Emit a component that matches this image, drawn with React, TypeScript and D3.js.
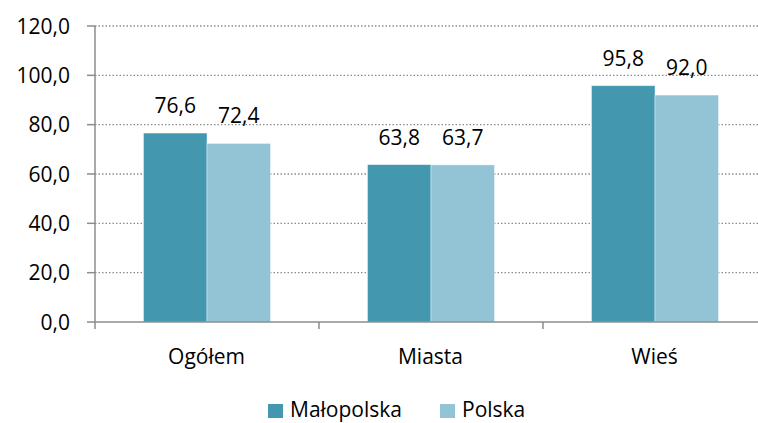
import React from 'react';
import * as d3 from 'd3';

const categories = ['Ogółem', 'Miasta', 'Wieś'];
const seriesNames = ['Małopolska', 'Polska'];
const malopolska = [76.6, 63.8, 95.8];
const polska = [72.4, 63.7, 92.0];
const yTicks = [0, 20, 40, 60, 80, 100, 120];
const colors = ['#4398b0', '#93c4d5'];

const W = 758;
const H = 423;
const font = '"Open Sans", sans-serif';

const fmt = (v: number) => v.toFixed(1).replace('.', ',');

export default function App() {
  const x = d3.scaleBand().domain(categories).range([95, 767]);
  const inner = d3.scaleBand().domain(seriesNames).range([0, 127]);
  const y = d3.scaleLinear().domain([0, 120]).range([322, 26]);
  const series = [malopolska, polska];

  const barX = (ci: number, si: number) =>
    (x(categories[ci]) || 0) + (x.bandwidth() - 127) / 2 + (inner(seriesNames[si]) || 0);

  return (
    <svg width={W} height={H} style={{ position: 'absolute', left: 0, top: 0, background: '#fff' }}>
      {/* gridlines */}
      {yTicks.filter((t) => t > 0).map((t) => (
        <line key={'g' + t} x1={95} x2={767} y1={y(t)} y2={y(t)} stroke="#8c8c8c" strokeWidth={1.3} strokeDasharray="1.5,2" />
      ))}
      {/* bars */}
      {series.map((vals, si) =>
        vals.map((v, ci) => (
          <rect
            key={`b${si}-${ci}`}
            x={barX(ci, si)}
            y={y(v)}
            width={inner.bandwidth()}
            height={y(0) - y(v)}
            fill={colors[si]}
            stroke="#ffffff"
            strokeOpacity={0.5}
            strokeWidth={0.8}
          />
        ))
      )}
      {/* value labels */}
      {series.map((vals, si) =>
        vals.map((v, ci) => (
          <text
            key={`l${si}-${ci}`}
            x={barX(ci, si) + inner.bandwidth() / 2}
            y={y(v) - 20}
            textAnchor="middle"
            fontFamily={font}
            fontSize={21}
            fill="#000"
          >
            {fmt(v)}
          </text>
        ))
      )}
      {/* y axis */}
      <line x1={95} x2={95} y1={26} y2={329} stroke="#8c8c8c" strokeWidth={1.5} />
      {yTicks.map((t) => (
        <g key={'t' + t}>
          <line x1={87} x2={95} y1={y(t)} y2={y(t)} stroke="#8c8c8c" strokeWidth={1.5} />
          <text x={70} y={y(t)} dy="0.36em" textAnchor="end" fontFamily={font} fontSize={21} fill="#000">
            {fmt(t)}
          </text>
        </g>
      ))}
      {/* x axis */}
      <line x1={95} x2={767} y1={y(0)} y2={y(0)} stroke="#8c8c8c" strokeWidth={1.5} />
      {categories.map((c) => (
        <line key={'xt' + c} x1={(x(c) || 0) + x.bandwidth()} x2={(x(c) || 0) + x.bandwidth()} y1={y(0)} y2={329} stroke="#8c8c8c" strokeWidth={1.5} />
      ))}
      {categories.map((c) => (
        <text key={'xl' + c} x={(x(c) || 0) + x.bandwidth() / 2 - 0.5} y={364} textAnchor="middle" fontFamily={font} fontSize={21} fill="#000">
          {c}
        </text>
      ))}
      {/* legend */}
      {[
        { name: seriesNames[0], sx: 268, tx: 290, color: colors[0] },
        { name: seriesNames[1], sx: 440, tx: 462, color: colors[1] },
      ].map((d) => (
        <g key={'lg' + d.name}>
          <rect x={d.sx} y={404} width={15} height={14} fill={d.color} />
          <text x={d.tx} y={417} fontFamily={font} fontSize={21} fill="#000">
            {d.name}
          </text>
        </g>
      ))}
    </svg>
  );
}
